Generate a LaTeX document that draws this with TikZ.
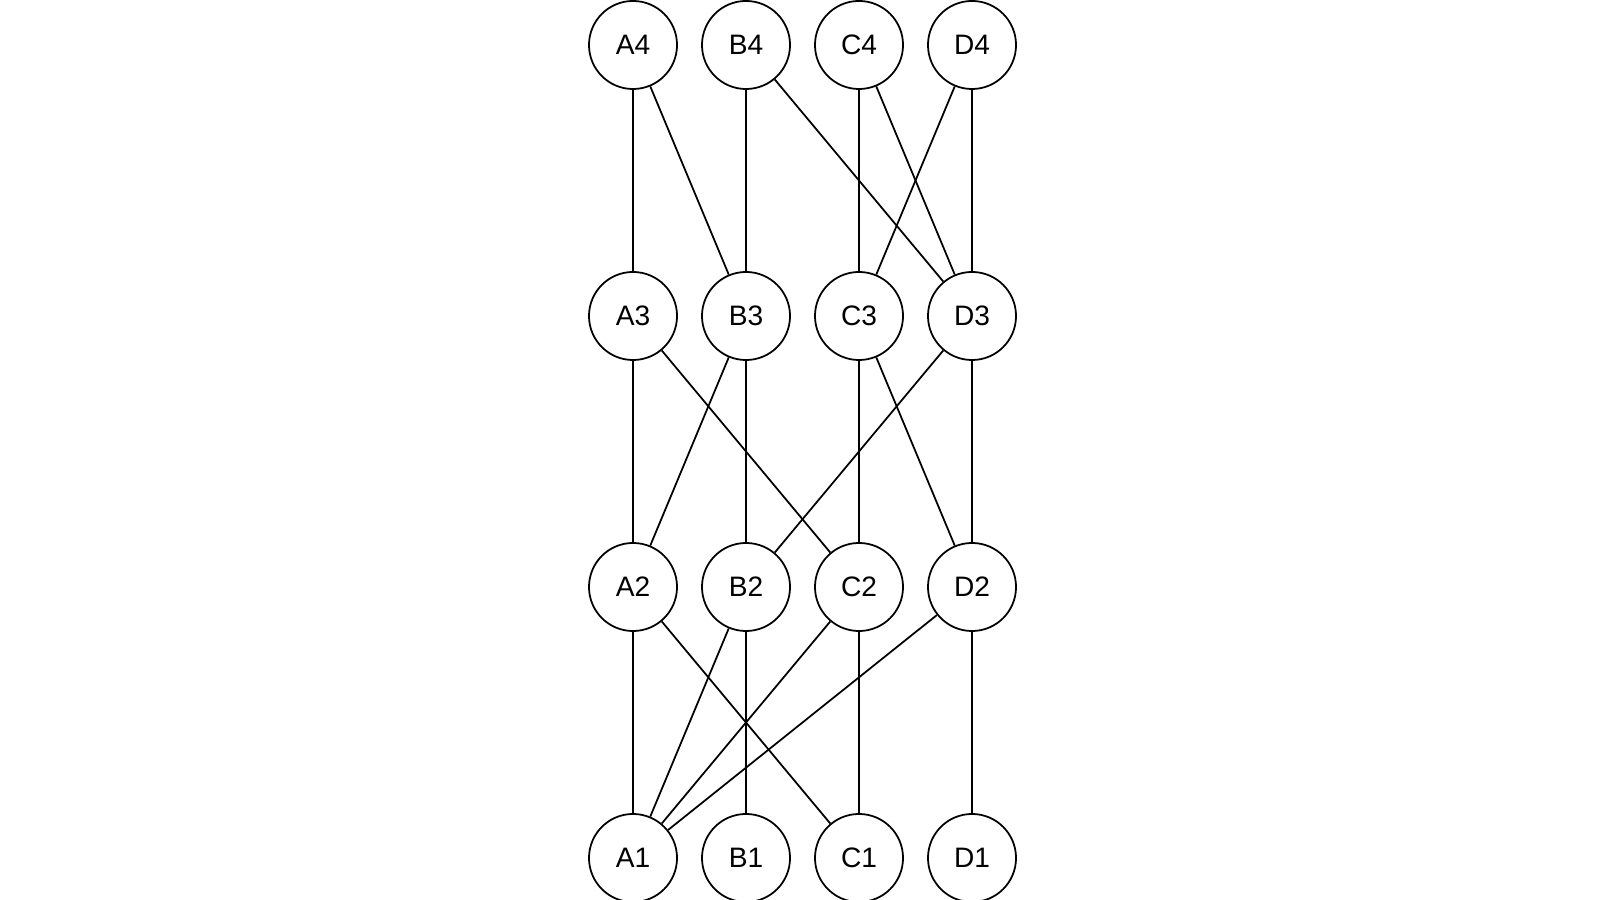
\documentclass[tikz,border=0pt]{standalone}
\usepackage{fontspec}
\setmainfont{Liberation Sans}
\usepackage{tikz}
\usetikzlibrary{positioning}
\tikzset{vtx/.style={circle,draw,line width=0.5pt,minimum size=0.88cm,inner sep=0pt,font=\fontsize{8}{9}\selectfont}}

\begin{document}
\begin{tikzpicture}[x=0.01cm,y=0.01cm]
\useasboundingbox (0,0) rectangle (1600,900);
\node[vtx] (A4) at (633,855) {A4};
\node[vtx] (B4) at (746,855) {B4};
\node[vtx] (C4) at (859,855) {C4};
\node[vtx] (D4) at (972,855) {D4};
\node[vtx] (A3) at (633,584) {A3};
\node[vtx] (B3) at (746,584) {B3};
\node[vtx] (C3) at (859,584) {C3};
\node[vtx] (D3) at (972,584) {D3};
\node[vtx] (A2) at (633,313) {A2};
\node[vtx] (B2) at (746,313) {B2};
\node[vtx] (C2) at (859,313) {C2};
\node[vtx] (D2) at (972,313) {D2};
\node[vtx] (A1) at (633,42) {A1};
\node[vtx] (B1) at (746,42) {B1};
\node[vtx] (C1) at (859,42) {C1};
\node[vtx] (D1) at (972,42) {D1};
\path[line width=0.5pt]
(A4) edge (A3) (A4) edge (B3) (B4) edge (B3) (B4) edge (D3)
(C4) edge (C3) (C4) edge (D3) (D4) edge (C3) (D4) edge (D3)
(A3) edge (A2) (A3) edge (C2) (B3) edge (A2) (B3) edge (B2)
(C3) edge (C2) (C3) edge (D2) (D3) edge (B2) (D3) edge (D2)
(A2) edge (A1) (A2) edge (C1) (B2) edge (A1) (B2) edge (B1)
(C2) edge (A1) (C2) edge (C1) (D2) edge (A1) (D2) edge (D1);
\end{tikzpicture}
\end{document}
